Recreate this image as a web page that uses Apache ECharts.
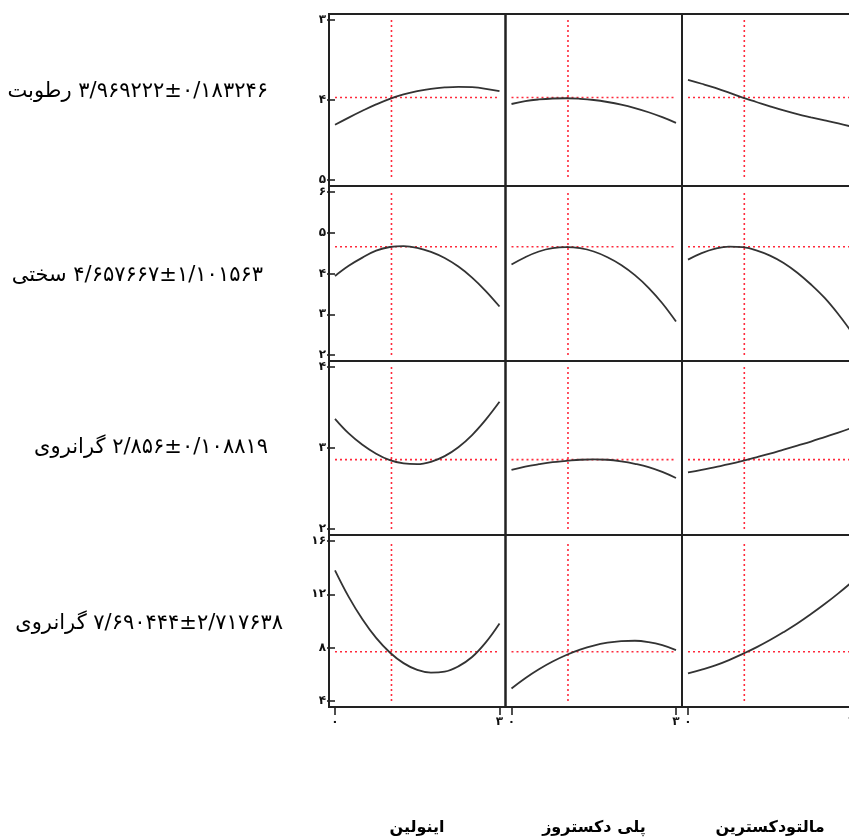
<!DOCTYPE html>
<html><head><meta charset="utf-8">
<script src="https://cdn.jsdelivr.net/npm/echarts@6/dist/echarts.min.js"></script>
<style>html,body{margin:0;padding:0;background:#fff}#c{width:849px;height:839px}</style>
</head><body><div id="c"></div>
<script>
// ---- data ----
const factorNames = ['اینولین', 'پلی دکستروز', 'مالتودکسترین'];
const responseNames = ['رطوبت', 'سختی', 'گرانروی', 'گرانروی'];
const responseMeans = ['۳/۹۶۹۲۲۲', '۴/۶۵۷۶۶۷', '۲/۸۵۶', '۷/۶۹۰۴۴۴'];
const responseSDs = ['۰/۱۸۳۲۴۶', '۱/۱۰۱۵۶۳', '۰/۱۰۸۸۱۹', '۲/۷۱۷۶۳۸'];
const predicted = [3.969222, 4.657667, 2.856, 7.690444];
const currentX = 1.03;
const xTicks = [0, 3];
const yTicks = [[3, 4, 5], [2, 3, 4, 5, 6], [2, 3, 4], [4, 8, 12, 16]];
const yInverse = [true, false, false, false];
const xValues = [0, 0.25, 0.5, 0.75, 1, 1.25, 1.5, 1.75, 2, 2.25, 2.5, 2.75, 3];
// profile values [row][col]
const moisture = [
  [4.31, 4.22, 4.135, 4.055, 3.985, 3.93, 3.89, 3.86, 3.843, 3.835, 3.84, 3.86, 3.89],
  [4.05, 4.014, 3.993, 3.981, 3.978, 3.985, 4.00, 4.025, 4.058, 4.101, 4.153, 4.215, 4.285],
  [3.748, 3.797, 3.849, 3.908, 3.971, 4.025, 4.079, 4.13, 4.176, 4.216, 4.254, 4.293, 4.335]
];
const hardness = [
  [3.94, 4.19, 4.39, 4.56, 4.65, 4.67, 4.63, 4.53, 4.38, 4.17, 3.90, 3.57, 3.19],
  [4.22, 4.40, 4.54, 4.62, 4.645, 4.62, 4.54, 4.40, 4.21, 3.96, 3.65, 3.27, 2.82],
  [4.34, 4.50, 4.61, 4.66, 4.645, 4.57, 4.44, 4.26, 4.02, 3.73, 3.40, 3.00, 2.55]
];
const viscosity1 = [
  [3.36, 3.18, 3.04, 2.93, 2.85, 2.81, 2.80, 2.83, 2.90, 3.01, 3.16, 3.35, 3.57],
  [2.73, 2.77, 2.80, 2.825, 2.84, 2.855, 2.86, 2.855, 2.835, 2.805, 2.765, 2.705, 2.63],
  [2.70, 2.73, 2.765, 2.80, 2.84, 2.885, 2.93, 2.98, 3.03, 3.08, 3.135, 3.19, 3.25]
];
const viscosity2 = [
  [13.80, 11.81, 10.13, 8.73, 7.64, 6.84, 6.33, 6.13, 6.20, 6.60, 7.30, 8.40, 9.82],
  [4.94, 5.71, 6.38, 6.96, 7.45, 7.85, 8.16, 8.37, 8.49, 8.52, 8.42, 8.19, 7.82],
  [6.07, 6.35, 6.67, 7.07, 7.53, 8.02, 8.57, 9.17, 9.81, 10.52, 11.27, 12.07, 12.93]
];
const profiles = [moisture, hardness, viscosity1, viscosity2];

// ---- layout ----
const colLeft = [329, 505.5, 682];
const colWidth = [176.5, 176.5, 176];
const rowTop = [14, 186, 361, 535];
const rowHeight = [172, 175, 174, 172];
const padX = 6, padY = 6;
const FONT = "'DejaVu Sans', sans-serif";

const persianDigits = '۰۱۲۳۴۵۶۷۸۹';
function toPersian(v) { return String(v).replace(/[0-9]/g, d => persianDigits[+d]); }

const grids = [], xAxes = [], yAxes = [], series = [];
const redStyle = { color: '#ff2a3c', width: 1.6, type: [2, 3] };
for (let r = 0; r < 4; r++) {
  const lo = yTicks[r][0], hi = yTicks[r][yTicks[r].length - 1];
  const innerH = rowHeight[r] - 2 * padY;
  const yPad = (hi - lo) * padY / innerH;
  for (let c = 0; c < 3; c++) {
    const idx = r * 3 + c;
    const innerW = colWidth[c] - 2 * padX;
    const xPad = (xTicks[1] - xTicks[0]) * padX / innerW;
    grids.push({
      left: colLeft[c], top: rowTop[r], width: colWidth[c], height: rowHeight[r],
      show: true, borderColor: '#222', borderWidth: 2, backgroundColor: 'transparent',
      containLabel: false, outerBoundsMode: 'none'
    });
    const bottomRow = r === 3;
    xAxes.push({
      type: 'value', gridIndex: idx, min: xTicks[0] - xPad, max: xTicks[1] + xPad,
      axisLine: { show: false },
      splitLine: { show: false },
      axisTick: { show: bottomRow, length: 8, customValues: xTicks, lineStyle: { color: '#222', width: 1.6 } },
      axisLabel: { show: bottomRow, customValues: xTicks, formatter: v => toPersian(Math.round(v)), color: '#111', fontSize: 12, fontWeight: 'bold', fontFamily: FONT, margin: 9 }
    });
    const firstCol = c === 0;
    yAxes.push({
      type: 'value', gridIndex: idx, inverse: yInverse[r], min: lo - yPad, max: hi + yPad,
      axisLine: { show: false },
      splitLine: { show: false },
      axisTick: { show: firstCol, length: 8, customValues: yTicks[r], lineStyle: { color: '#222', width: 1.6 } },
      axisLabel: { show: firstCol, customValues: yTicks[r], formatter: v => toPersian(Math.round(v)), color: '#111', fontSize: 12, fontWeight: 'bold', fontFamily: FONT, margin: 3 }
    });
    // red reference lines
    series.push({
      type: 'line', xAxisIndex: idx, yAxisIndex: idx, silent: true, symbol: 'none',
      data: [[xTicks[0], predicted[r]], [xTicks[1], predicted[r]]], lineStyle: redStyle, z: 2
    });
    series.push({
      type: 'line', xAxisIndex: idx, yAxisIndex: idx, silent: true, symbol: 'none',
      data: [[currentX, lo], [currentX, hi]], lineStyle: redStyle, z: 2
    });
    // profile curve
    series.push({
      type: 'line', xAxisIndex: idx, yAxisIndex: idx, silent: true, symbol: 'none', smooth: 0.4,
      data: xValues.map((x, i) => [x, profiles[r][c][i]]),
      lineStyle: { color: '#333', width: 1.8 }, z: 3
    });
  }
}

// text labels (left response labels, bottom factor names)
const labelRight = [268, 263, 268, 283];
const labelMid = [92, 276, 448, 624];
const graphics = [];
for (let r = 0; r < 4; r++) {
  graphics.push({
    type: 'text', x: labelRight[r], y: labelMid[r],
    style: {
      text: responseNames[r] + '\u200E \u200E' + responseMeans[r] + '\u200E±\u200E' + responseSDs[r],
      font: "21px 'DejaVu Sans', sans-serif", fill: '#000', textAlign: 'right', textVerticalAlign: 'middle'
    }
  });
}
const titleCenter = [417, 594, 770];
for (let c = 0; c < 3; c++) {
  graphics.push({
    type: 'text', x: titleCenter[c], y: 828,
    style: { text: factorNames[c], font: "bold 16px 'DejaVu Sans', sans-serif", fill: '#000', textAlign: 'center', textVerticalAlign: 'middle' }
  });
}

const chart = echarts.init(document.getElementById('c'), null, { renderer: 'canvas' });
chart.setOption({
  animation: false,
  backgroundColor: '#fff',
  grid: grids, xAxis: xAxes, yAxis: yAxes, series: series, graphic: graphics
});
</script></body></html>
